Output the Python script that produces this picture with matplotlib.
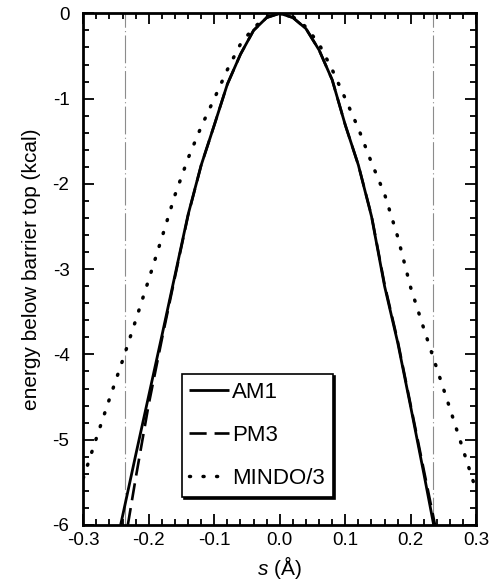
import matplotlib
matplotlib.use("Agg")
import matplotlib.pyplot as plt
from matplotlib.ticker import MultipleLocator

plt.rcParams['font.family'] = ['Liberation Sans', 'DejaVu Sans']
plt.rcParams['mathtext.fontset'] = 'custom'
plt.rcParams['mathtext.it'] = 'Liberation Sans:italic'
plt.rcParams['mathtext.rm'] = 'Liberation Sans'

# AM1
am1_s = [-0.243, -0.22, -0.20, -0.18, -0.16, -0.14, -0.12, -0.10, -0.08, -0.06, -0.04, -0.02, 0.0,
         0.02, 0.04, 0.06, 0.08, 0.10, 0.12, 0.14, 0.16, 0.18, 0.20, 0.22, 0.235]
am1_e = [-6.0, -5.18, -4.48, -3.78, -3.07, -2.36, -1.78, -1.31, -0.83, -0.48, -0.20, -0.05, 0.0,
         -0.05, -0.18, -0.43, -0.78, -1.31, -1.78, -2.38, -3.20, -3.86, -4.62, -5.40, -6.0]
# PM3
pm3_s = [-0.232, -0.22, -0.20, -0.18, -0.16, -0.14, -0.12, -0.10, -0.08, -0.06, -0.04, -0.02, 0.0,
         0.02, 0.04, 0.06, 0.08, 0.10, 0.12, 0.14, 0.16, 0.18, 0.20, 0.22, 0.237]
pm3_e = [-6.0, -5.45, -4.58, -3.82, -3.09, -2.37, -1.78, -1.31, -0.83, -0.48, -0.20, -0.05, 0.0,
         -0.05, -0.18, -0.43, -0.78, -1.31, -1.78, -2.37, -3.18, -3.84, -4.60, -5.36, -6.0]
# MINDO/3
mindo_s = [-0.30, -0.28, -0.26, -0.24, -0.22, -0.20, -0.18, -0.16, -0.14, -0.12, -0.10, -0.08, -0.06,
           -0.04, -0.02, 0.0, 0.02, 0.04, 0.06, 0.08, 0.10, 0.12, 0.14, 0.16, 0.18, 0.20, 0.22,
           0.24, 0.26, 0.28, 0.30]
mindo_e = [-5.45, -4.98, -4.52, -4.07, -3.60, -3.12, -2.63, -2.13, -1.70, -1.33, -1.0, -0.66, -0.36,
           -0.17, -0.04, 0.0, -0.04, -0.16, -0.36, -0.66, -1.0, -1.35, -1.75, -2.12, -2.62, -3.22, -3.70,
           -4.17, -4.64, -5.12, -5.60]
# vertical reference lines
vline_s = [-0.236, 0.234]

xtick_vals = [-0.3, -0.2, -0.1, 0.0, 0.1, 0.2, 0.3]
xtick_labels = ['-0.3', '-0.2', '-0.1', '0.0', '0.1', '0.2', '0.3']
ytick_vals = [0, -1, -2, -3, -4, -5, -6]
ytick_labels = ['0', '-1', '-2', '-3', '-4', '-5', '-6']

fig = plt.figure(figsize=(4.9, 5.85), dpi=100)
ax = fig.add_axes([0.170, 0.1026, 0.802, 0.8746])

for v in vline_s:
    ax.axvline(v, color='0.55', lw=0.8, ls=(0, (25, 3, 1, 3)), zorder=1)

ax.plot(am1_s, am1_e, color='black', lw=2.0, solid_capstyle='butt', label='AM1', zorder=3)
ax.plot(pm3_s, pm3_e, color='black', lw=1.9, ls=(0, (6.5, 3)), label='PM3', zorder=3)
ax.plot(mindo_s, mindo_e, color='black', lw=2.5, ls=(0, (0.3, 3.6)), dash_capstyle='round',
        label='MINDO/3', zorder=3)

ax.set_xlim(-0.3, 0.3)
ax.set_ylim(-6, 0)
ax.set_xticks(xtick_vals)
ax.set_xticklabels(xtick_labels)
ax.set_yticks(ytick_vals)
ax.set_yticklabels(ytick_labels)
ax.xaxis.set_minor_locator(MultipleLocator(0.02))
ax.yaxis.set_minor_locator(MultipleLocator(0.2))
ax.tick_params(which='both', direction='in', top=True, right=True, labelsize=13.5, width=1.3)
ax.tick_params(which='major', length=8)
ax.tick_params(which='minor', length=4.5)
ax.tick_params(axis='x', which='major', pad=5)
ax.tick_params(axis='y', which='major', pad=10)
for sp in ax.spines.values():
    sp.set_linewidth(2.0)

ax.set_xlabel('$s$ (Å)', fontsize=15, labelpad=4)
ax.set_ylabel('energy below barrier top (kcal)', fontsize=15, labelpad=8)

leg = ax.legend(loc='lower left', bbox_to_anchor=(0.25, 0.0547), borderaxespad=0,
                fontsize=16, frameon=True, fancybox=False,
                shadow={'color': 'black', 'alpha': 1.0, 'ox': 1.5, 'oy': -1.5},
                edgecolor='black', handlelength=1.78, handletextpad=0.15, labelspacing=1.0,
                borderpad=0.35)
leg.get_frame().set_linewidth(1.2)

fig.savefig('out.png', dpi=100)
